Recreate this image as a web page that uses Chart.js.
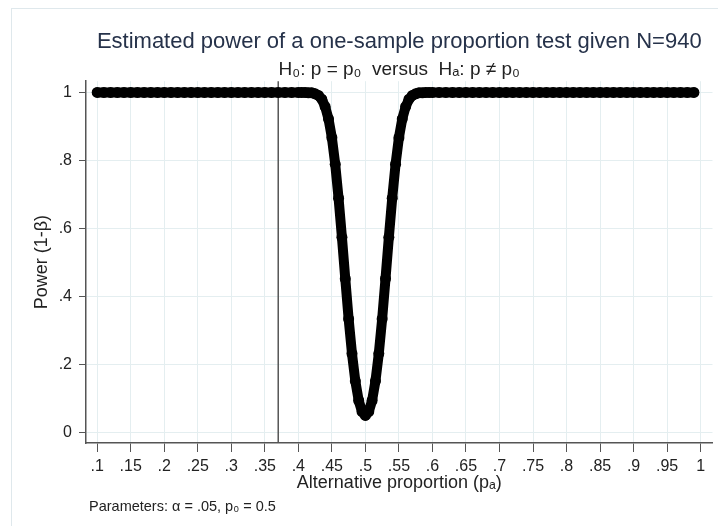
<!DOCTYPE html>
<html>
<head>
<meta charset="utf-8">
<script src="https://cdn.jsdelivr.net/npm/chart.js@4.4.0/dist/chart.umd.min.js"></script>
<style>
  html, body { margin: 0; padding: 0; background: #fff; }
  #wrap { width: 718px; height: 526px; }
</style>
</head>
<body>
<div id="wrap"><canvas id="powerChart" width="718" height="526"></canvas></div>
<script>
// alternative proportion p_a and estimated power
const altProportion = [
  0.10, 0.11, 0.12, 0.13, 0.14, 0.15, 0.16, 0.17, 0.18, 0.19,
  0.20, 0.21, 0.22, 0.23, 0.24, 0.25, 0.26, 0.27, 0.28, 0.29,
  0.30, 0.31, 0.32, 0.33, 0.34, 0.35, 0.36, 0.37, 0.38, 0.39,
  0.400, 0.405, 0.410, 0.415, 0.420, 0.425, 0.430, 0.435, 0.440, 0.445,
  0.450, 0.455, 0.460, 0.465, 0.470, 0.475, 0.480, 0.485, 0.490, 0.495,
  0.500, 0.505, 0.510, 0.515, 0.520, 0.525, 0.530, 0.535, 0.540, 0.545,
  0.550, 0.555, 0.560, 0.565, 0.570, 0.575, 0.580, 0.585, 0.590, 0.595,
  0.60, 0.61, 0.62, 0.63, 0.64, 0.65, 0.66, 0.67, 0.68, 0.69,
  0.70, 0.71, 0.72, 0.73, 0.74, 0.75, 0.76, 0.77, 0.78, 0.79,
  0.80, 0.81, 0.82, 0.83, 0.84, 0.85, 0.86, 0.87, 0.88, 0.89,
  0.90, 0.91, 0.92, 0.93, 0.94, 0.95, 0.96, 0.97, 0.98, 0.99
];
const power = [
  1, 1, 1, 1, 1, 1, 1, 1, 1, 1,
  1, 1, 1, 1, 1, 1, 1, 1, 1, 1,
  1, 1, 1, 1, 1, 1, 1, 1, 1, 1,
  1.000, 1.000, 1.000, 0.999, 0.999, 0.996, 0.991, 0.980, 0.958, 0.922,
  0.867, 0.789, 0.689, 0.574, 0.452, 0.334, 0.232, 0.151, 0.094, 0.061,
  0.050, 0.061, 0.094, 0.151, 0.232, 0.334, 0.452, 0.574, 0.689, 0.789,
  0.867, 0.922, 0.958, 0.980, 0.991, 0.996, 0.999, 0.999, 1.000, 1.000,
  1, 1, 1, 1, 1, 1, 1, 1, 1, 1,
  1, 1, 1, 1, 1, 1, 1, 1, 1, 1,
  1, 1, 1, 1, 1, 1, 1, 1, 1, 1,
  1, 1, 1, 1, 1, 1, 1, 1, 1, 1
];

const xTicks = [0.1, 0.15, 0.2, 0.25, 0.3, 0.35, 0.4, 0.45, 0.5, 0.55, 0.6, 0.65, 0.7, 0.75, 0.8, 0.85, 0.9, 0.95, 1];
const xTickLabels = ['.1', '.15', '.2', '.25', '.3', '.35', '.4', '.45', '.5', '.55', '.6', '.65', '.7', '.75', '.8', '.85', '.9', '.95', '1'];
const yTicks = [0, 0.2, 0.4, 0.6, 0.8, 1];
const yTickLabels = ['0', '.2', '.4', '.6', '.8', '1'];
const refLineX = 0.37;

const FONT = "'Liberation Sans', Arial, 'DejaVu Sans', sans-serif";
const AXIS = '#555555';
const GRID = '#e4eef0';

function labelFor(ticks, labels, v) {
    const i = ticks.findIndex(t => Math.abs(t - v) < 1e-9);
    return i >= 0 ? labels[i] : '';
}

const stataLook = {
    id: 'stataLook',
    beforeDraw(chart) {
        const ctx = chart.ctx;
        ctx.save();
        ctx.fillStyle = '#fff';
        ctx.fillRect(0, 0, chart.width, chart.height);
        ctx.strokeStyle = '#dfe8ec';
        ctx.lineWidth = 1;
        ctx.strokeRect(11.5, 8.5, chart.width + 10, chart.height + 10);
        ctx.restore();
    },
    beforeDatasetsDraw(chart) {
        const ctx = chart.ctx;
        const x = chart.scales.x.getPixelForValue(refLineX);
        ctx.save();
        ctx.strokeStyle = AXIS;
        ctx.lineWidth = 1.5;
        ctx.beginPath();
        ctx.moveTo(x, chart.chartArea.top);
        ctx.lineTo(x, chart.chartArea.bottom);
        ctx.stroke();
        ctx.restore();
    },
    afterDraw(chart) {
        const ctx = chart.ctx;
        ctx.save();
        ctx.fillStyle = '#222';
        ctx.font = "14.5px " + FONT;
        ctx.textBaseline = 'middle';
        ctx.fillText('Parameters: \u03b1 = .05, p\u2080 = 0.5', 89, 507);
        ctx.restore();
    }
};

const config = {
    type: 'scatter',
    data: {
        datasets: [{
            label: 'power',
            data: altProportion.map((p, i) => ({ x: p, y: power[i] })),
            showLine: true,
            borderColor: '#000',
            borderWidth: 10,
            borderCapStyle: 'round',
            borderJoinStyle: 'round',
            pointRadius: 5.5,
            pointBackgroundColor: '#000',
            pointBorderColor: '#000',
            pointBorderWidth: 0
        }]
    },
    options: {
        responsive: false,
        animation: false,
        devicePixelRatio: 1,
        layout: { padding: { left: 11, top: 29, right: 0, bottom: 0 } },
        plugins: {
            legend: { display: false },
            tooltip: { enabled: false },
            title: {
                display: true,
                fullSize: false,
                text: 'Estimated power of a one-sample proportion test given N=940',
                color: '#26324a',
                font: { family: FONT, size: 22, weight: 'normal' },
                padding: { top: 0, bottom: 3 }
            },
            subtitle: {
                display: true,
                fullSize: false,
                text: 'H\u2080: p = p\u2080  versus  H\u2090: p \u2260 p\u2080',
                color: '#222',
                font: { family: FONT, size: 19, weight: 'normal' },
                padding: { top: 0, bottom: 0 }
            }
        },
        scales: {
            x: {
                type: 'linear',
                min: 0.0833,
                max: 1.0177,
                afterBuildTicks: axis => { axis.ticks = xTicks.map(v => ({ value: v })); },
                afterFit: scale => { scale.height = 83; },
                ticks: {
                    autoSkip: false,
                    maxRotation: 0,
                    color: '#222',
                    padding: 5,
                    font: { family: FONT, size: 16 },
                    callback: v => labelFor(xTicks, xTickLabels, v)
                },
                grid: { color: GRID, tickColor: AXIS, tickLength: 9, lineWidth: 1 },
                border: { color: AXIS, width: 1.5 },
                title: {
                    display: true,
                    text: 'Alternative proportion (p\u2090)',
                    color: '#222',
                    font: { family: FONT, size: 18 },
                    padding: { top: 0, bottom: 32 }
                }
            },
            y: {
                type: 'linear',
                min: -0.031,
                max: 1.033,
                afterBuildTicks: axis => { axis.ticks = yTicks.map(v => ({ value: v })); },
                afterFit: scale => { scale.width = 75; },
                ticks: {
                    color: '#222',
                    padding: 7,
                    font: { family: FONT, size: 16 },
                    callback: v => labelFor(yTicks, yTickLabels, v)
                },
                grid: { color: GRID, tickColor: AXIS, tickLength: 7, lineWidth: 1 },
                border: { color: AXIS, width: 1.5 },
                title: {
                    display: true,
                    text: 'Power (1-\u03b2)',
                    color: '#222',
                    font: { family: FONT, size: 18 },
                    padding: { top: 20, bottom: 0 }
                }
            }
        }
    },
    plugins: [stataLook]
};

let myChart = new Chart(document.getElementById('powerChart'), config);
</script>
</body>
</html>
